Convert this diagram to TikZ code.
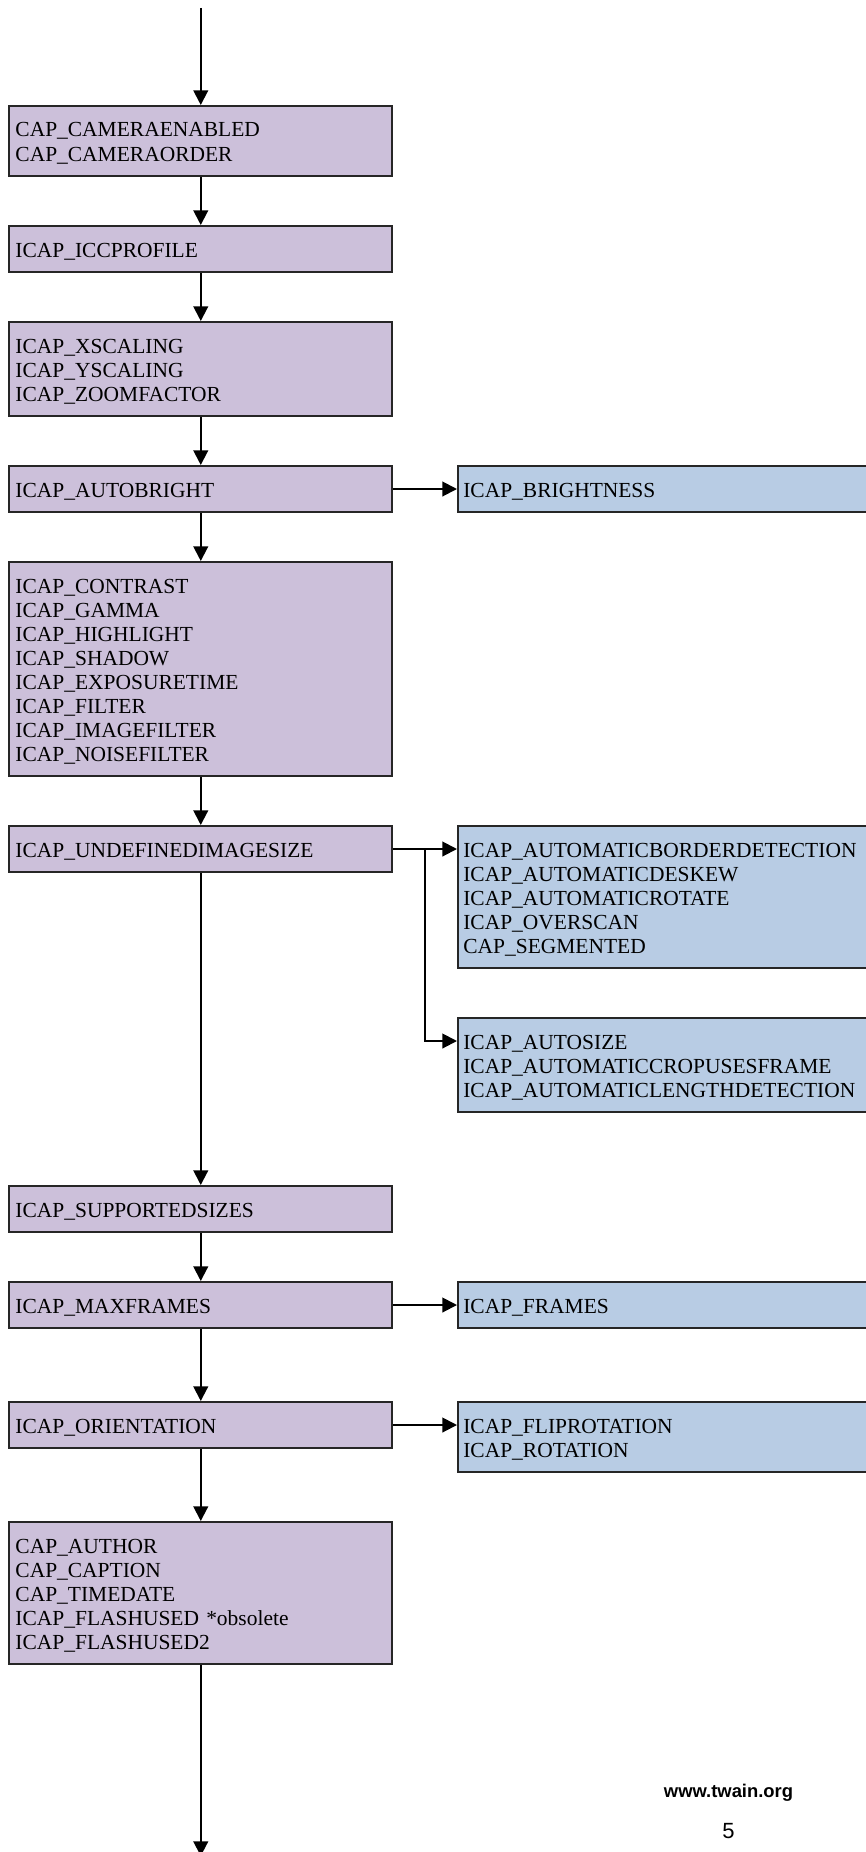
\documentclass[tikz,border=0pt]{standalone}
\usepackage{fontspec}
\setmainfont{Liberation Serif}
\newfontfamily\footfont{Liberation Sans}
\usetikzlibrary{arrows.meta}
\definecolor{capviolet}{RGB}{204,192,218}
\definecolor{capblue}{RGB}{184,204,228}
\newcommand{\topstrut}{\rule{0pt}{15pt}}
\newcommand{\botstrut}{\rule[-3pt]{0pt}{3pt}}

\begin{document}
\begin{tikzpicture}[x=0.75pt,y=-0.75pt,
		capbox/.style={draw=black!85,line width=1.5pt,anchor=north west,align=left,inner ysep=8.25pt,
			font=\fontsize{16.1}{18}\selectfont,execute at begin node=\topstrut,execute at end node=\botstrut},
		lbox/.style={capbox,fill=capviolet,inner xsep=4.6pt,text width=278pt},
		rbox/.style={capbox,fill=capblue,inner xsep=4pt,text width=340pt},
		flow/.style={line width=1.5pt,-{Triangle[length=11pt,width=11pt]}}]
		\useasboundingbox (0,0) rectangle (866,1852);
		\clip (0,0) rectangle (866,1852);
		\node[lbox] (camera) at (8.3,105) {CAP\_CAMERAENABLED\\CAP\_CAMERAORDER};
		\node[lbox] (icc) at (8.3,225) {ICAP\_ICCPROFILE};
		\node[lbox] (scaling) at (8.3,321) {ICAP\_XSCALING\\ICAP\_YSCALING\\ICAP\_ZOOMFACTOR};
		\node[lbox] (autobright) at (8.3,465) {ICAP\_AUTOBRIGHT};
		\node[lbox] (contrast) at (8.3,561) {ICAP\_CONTRAST\\ICAP\_GAMMA\\ICAP\_HIGHLIGHT\\ICAP\_SHADOW\\ICAP\_EXPOSURETIME\\ICAP\_FILTER\\ICAP\_IMAGEFILTER\\ICAP\_NOISEFILTER};
		\node[lbox] (undefsize) at (8.3,825) {ICAP\_UNDEFINEDIMAGESIZE};
		\node[lbox] (sizes) at (8.3,1185) {ICAP\_SUPPORTEDSIZES};
		\node[lbox] (maxframes) at (8.3,1281) {ICAP\_MAXFRAMES};
		\node[lbox] (orient) at (8.3,1401) {ICAP\_ORIENTATION};
		\node[lbox] (author) at (8.3,1521) {CAP\_AUTHOR\\CAP\_CAPTION\\CAP\_TIMEDATE\\ICAP\_FLASHUSED *obsolete\\ICAP\_FLASHUSED2};

		\node[rbox] (brightness) at (457,465) {ICAP\_BRIGHTNESS};
		\node[rbox] (border) at (457,825) {ICAP\_AUTOMATICBORDERDETECTION\\ICAP\_AUTOMATICDESKEW\\ICAP\_AUTOMATICROTATE\\ICAP\_OVERSCAN\\CAP\_SEGMENTED};
		\node[rbox] (autosize) at (457,1017) {ICAP\_AUTOSIZE\\ICAP\_AUTOMATICCROPUSESFRAME\\ICAP\_AUTOMATICLENGTHDETECTION};
		\node[rbox] (frames) at (457,1281) {ICAP\_FRAMES};
		\node[rbox] (fliprot) at (457,1401) {ICAP\_FLIPROTATION\\ICAP\_ROTATION};

		\coordinate (start) at (camera.north |- 0,8);
		\coordinate (finish) at (author.south |- 0,1856);
		\coordinate (split) at ([xshift=24pt]undefsize.east);

		\draw[flow] (start) -- (camera.north);
		\draw[flow] (camera) -- (icc);
		\draw[flow] (icc) -- (scaling);
		\draw[flow] (scaling) -- (autobright);
		\draw[flow] (autobright) -- (contrast);
		\draw[flow] (contrast) -- (undefsize);
		\draw[flow] (undefsize) -- (sizes);
		\draw[flow] (sizes) -- (maxframes);
		\draw[flow] (maxframes) -- (orient);
		\draw[flow] (orient) -- (author);
		\draw[flow] (author.south) -- (finish);

		\draw[flow] (autobright.east) -- (brightness.west);
		\draw[flow] (undefsize.east) -- (undefsize.east -| border.west);
		\draw[flow] (split) |- ([yshift=-18pt]autosize.north west);
		\draw[flow] (maxframes.east) -- (frames.west);
		\draw[flow] (orient.east) -- (orient.east -| fliprot.west);

		\node[font=\footfont\bfseries\fontsize{13.8}{16}\selectfont,anchor=base] (url) at (728.5,1797) {www.twain.org};
		\node[font=\footfont\fontsize{16.5}{18}\selectfont,anchor=base] (pagenum) at (728.5,1838) {5};
\end{tikzpicture}
\end{document}
